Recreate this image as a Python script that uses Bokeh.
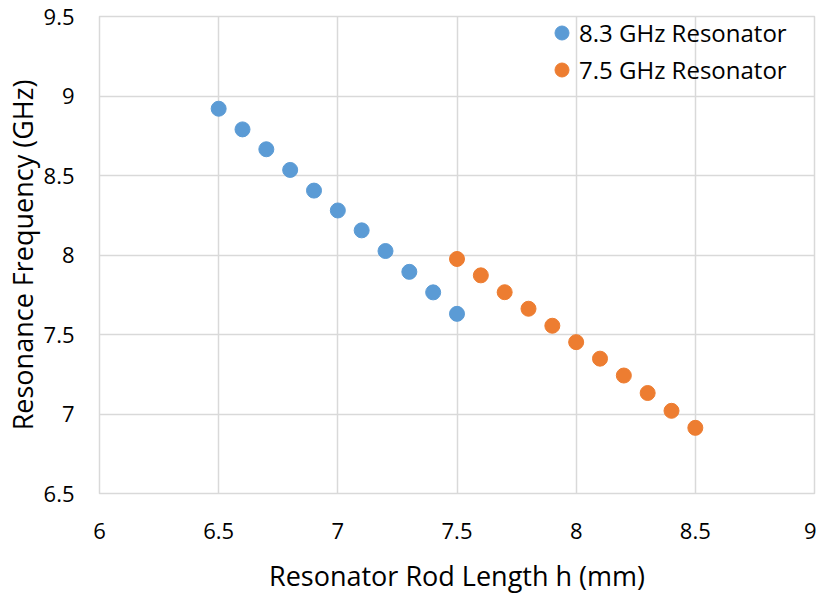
from bokeh.plotting import figure
from bokeh.models import ColumnDataSource, Range1d, FixedTicker, Legend, LegendItem
from bokeh.embed import file_html
from bokeh.resources import INLINE

# Data
x_83 = [6.5, 6.6, 6.7, 6.8, 6.9, 7.0, 7.1, 7.2, 7.3, 7.4, 7.5]
f_83 = [8.92, 8.79, 8.665, 8.535, 8.405, 8.28, 8.155, 8.025, 7.894, 7.765, 7.63]
x_75 = [7.5, 7.6, 7.7, 7.8, 7.9, 8.0, 8.1, 8.2, 8.3, 8.4, 8.5]
f_75 = [7.975, 7.872, 7.766, 7.662, 7.555, 7.452, 7.348, 7.242, 7.132, 7.02, 6.913]
x_ticks = [6, 6.5, 7, 7.5, 8, 8.5, 9]
y_ticks = [6.5, 7, 7.5, 8, 8.5, 9, 9.5]
series_names = ["8.3 GHz Resonator", "7.5 GHz Resonator"]

FONT = "Open Sans"
BLUE = "#5B9BD5"
ORANGE = "#ED7D31"
GRID = "#D9D9D9"

p = figure(frame_width=715, frame_height=477, output_backend="svg", toolbar_location=None,
           x_range=Range1d(6, 9), y_range=Range1d(6.5, 9.5),
           min_border_left=94, min_border_right=2, min_border_top=16, min_border_bottom=90)

p.outline_line_color = GRID
p.outline_line_width = 1.5

for ax in (p.xaxis[0], p.yaxis[0]):
    ax.axis_line_color = None
    ax.major_tick_line_color = None
    ax.minor_tick_line_color = None
    ax.major_tick_out = 0
    ax.major_tick_in = 0
    ax.major_label_text_font = FONT
    ax.major_label_text_font_size = "22px"
    ax.major_label_text_color = "#000000"
    ax.axis_label_text_font = FONT
    ax.axis_label_text_font_size = "27px"
    ax.axis_label_text_font_style = "normal"
    ax.axis_label_text_color = "#000000"

p.xaxis.ticker = FixedTicker(ticks=x_ticks)
p.yaxis.ticker = FixedTicker(ticks=y_ticks)
p.xaxis.major_label_overrides = {t: f"{t:g}" for t in x_ticks}
p.yaxis.major_label_overrides = {t: f"{t:g}" for t in y_ticks}
p.xaxis.axis_label = "Resonator Rod Length h (mm)"
p.yaxis.axis_label = "Resonance Frequency (GHz)"
p.xaxis.major_label_standoff = 29
p.yaxis.major_label_standoff = 25
p.xaxis.axis_label_standoff = 15
p.yaxis.axis_label_standoff = 0

p.xgrid.ticker = FixedTicker(ticks=x_ticks)
p.ygrid.ticker = FixedTicker(ticks=y_ticks)
p.grid.grid_line_color = GRID
p.grid.grid_line_width = 1.5

s1 = ColumnDataSource(dict(x=x_83, y=f_83))
s2 = ColumnDataSource(dict(x=x_75, y=f_75))
r1 = p.scatter("x", "y", source=s1, size=15, fill_color=BLUE, line_color=BLUE)
r2 = p.scatter("x", "y", source=s2, size=15, fill_color=ORANGE, line_color=ORANGE)

legend = Legend(items=[LegendItem(label=series_names[0], renderers=[r1]),
                       LegendItem(label=series_names[1], renderers=[r2])],
                location=(445, 406))
legend.background_fill_alpha = 0
legend.border_line_alpha = 0
legend.padding = 0
legend.margin = 0
legend.spacing = 2
legend.label_height = 35
legend.glyph_height = 35
legend.glyph_width = 35
legend.label_standoff = 0
legend.label_text_font = FONT
legend.label_text_font_size = "24px"
legend.label_text_color = "#000000"
p.add_layout(legend)

open("out.html", "w").write(file_html(p, INLINE))
